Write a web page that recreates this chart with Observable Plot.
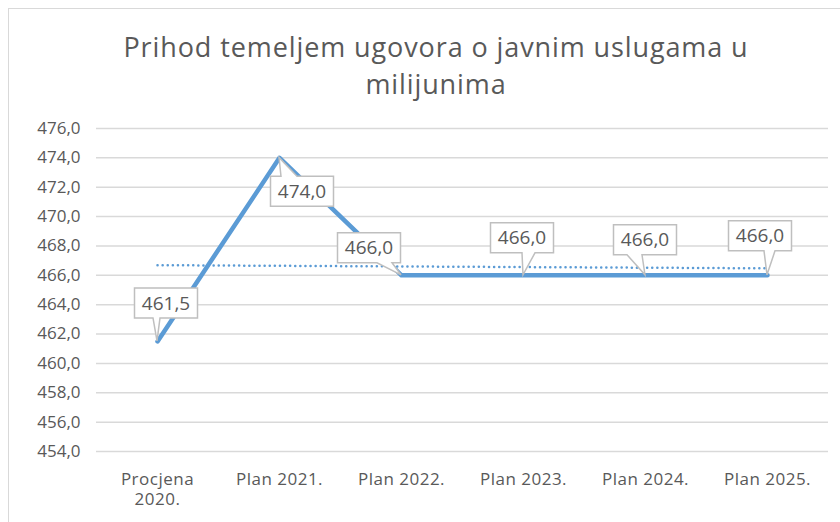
<!DOCTYPE html>
<html>
<head>
<meta charset="utf-8">
<script src="https://cdn.jsdelivr.net/npm/d3@7"></script>
<script src="https://cdn.jsdelivr.net/npm/@observablehq/plot@0.6"></script>
<style>
  body { margin: 0; background: #fff; }
  #wrap { position: relative; width: 840px; height: 522px; overflow: hidden; font-family: "Open Sans", Lato, sans-serif; }
  #frame { position: absolute; left: 8px; top: 8px; width: 900px; height: 600px; border: 1.5px solid #d9d9d9; box-sizing: border-box; }
  #title { position: absolute; left: 0; width: 872px; top: 28px; text-align: center; font-size: 27px; letter-spacing: 0.9px; line-height: 37px; color: #595959; }
  #chart { position: absolute; left: 0; top: 100px; }
  #chart g[aria-label="x-axis tick label"] text { letter-spacing: 0.5px; }
</style>
</head>
<body>
<div id="wrap">
  <div id="frame"></div>
  <div id="title">Prihod temeljem ugovora o javnim uslugama u<br>milijunima</div>
  <div id="chart"></div>
</div>
<script>
const categories = ["Procjena\n2020.", "Plan 2021.", "Plan 2022.", "Plan 2023.", "Plan 2024.", "Plan 2025."];
const values = [461.5, 474.0, 466.0, 466.0, 466.0, 466.0];
const yTicks = [454, 456, 458, 460, 462, 464, 466, 468, 470, 472, 474, 476];

const data = categories.map((c, i) => ({cat: c, value: values[i]}));

// linear trend line (least squares over category index)
const n = values.length;
const xm = (n - 1) / 2;
const ym = d3.mean(values);
const slope = d3.sum(values, (v, i) => (i - xm) * (v - ym)) / d3.sum(values, (v, i) => (i - xm) ** 2);
const trend = categories.map((c, i) => ({cat: c, value: ym + slope * (i - xm)}));

// callout styling: box centre offset from point and tail base (relative to point x)
const calloutStyle = [
  {dx: 9, dy: -38, tail: [-4, 3]},
  {dx: 23, dy: 34, tail: [2, 18]},
  {dx: -32, dy: -27, tail: [-24, -9]},
  {dx: -1, dy: -37, tail: [-1, 12]},
  {dx: 0, dy: -35, tail: [-18, -3]},
  {dx: -7, dy: -39, tail: [-3, 8]}
];
const fmt = v => v.toFixed(1).replace(".", ",");

function callouts(index, scales) {
  const g = d3.create("svg:g");
  const bw = 63, bh = 30;
  data.forEach((d, i) => {
    const s = calloutStyle[i];
    const px = scales.x(d.cat), py = scales.y(d.value);
    const cx = px + s.dx, cy = py + s.dy;
    const x0 = cx - bw / 2, x1 = cx + bw / 2, y0 = cy - bh / 2, y1 = cy + bh / 2;
    const t0 = px + s.tail[0], t1 = px + s.tail[1];
    let p;
    if (py > y1) {
      p = `M${x0},${y0}H${x1}V${y1}H${t1}L${px},${py}L${t0},${y1}H${x0}Z`;
    } else {
      p = `M${x0},${y0}H${t0}L${px},${py}L${t1},${y0}H${x1}V${y1}H${x0}Z`;
    }
    g.append("path").attr("d", p).attr("fill", "white").attr("stroke", "#bfbfbf").attr("stroke-width", 1.5);
    g.append("text").attr("x", cx).attr("y", cy).attr("text-anchor", "middle").attr("dy", "0.35em")
      .attr("fill", "#595959").attr("font-size", 19).attr("font-family", "'Open Sans', Lato, sans-serif")
      .text(fmt(d.value));
  });
  return g.node();
}

const plot = Plot.plot({
  width: 840,
  height: 422,
  marginLeft: 96,
  marginRight: 12,
  marginTop: 28,
  marginBottom: 71,
  style: {fontFamily: "'Open Sans', Lato, sans-serif", fontSize: "17px", color: "#595959", background: "transparent"},
  x: {type: "point", domain: categories, label: null},
  y: {domain: [454, 476], ticks: yTicks, tickFormat: fmt, label: null},
  marks: [
    Plot.gridY(yTicks, {stroke: "#d9d9d9", strokeOpacity: 1, strokeWidth: 1.5}),
    Plot.axisY(yTicks, {tickSize: 0, tickPadding: 16, tickFormat: fmt, label: null}),
    Plot.axisX({tickSize: 0, tickPadding: 19, lineHeight: 1.2, label: null}),
    Plot.line(trend, {x: "cat", y: "value", stroke: "#5b9bd5", strokeWidth: 2.5, strokeDasharray: "0.1,5", strokeLinecap: "round"}),
    Plot.line(data, {x: "cat", y: "value", stroke: "#5b9bd5", strokeWidth: 4.5, strokeLinejoin: "round"}),
    callouts
  ]
});
document.getElementById("chart").appendChild(plot);
</script>
</body>
</html>
